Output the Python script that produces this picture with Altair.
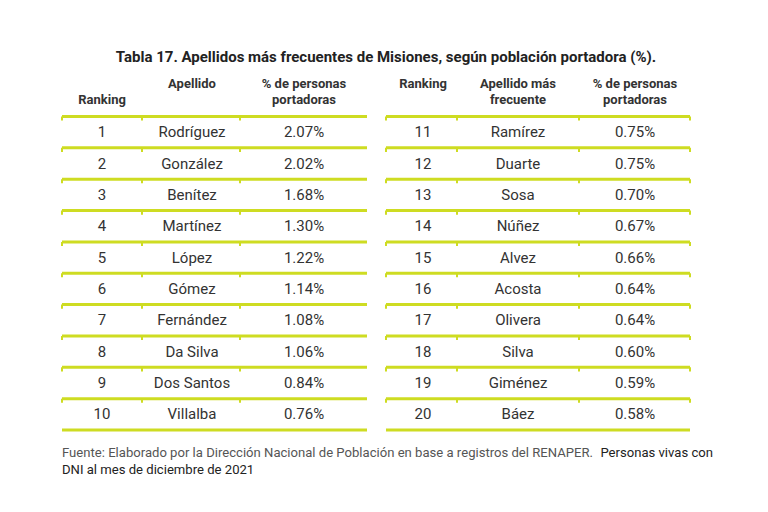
import altair as alt
import pandas as pd

# ---- data ----
title = "Tabla 17. Apellidos más frecuentes de Misiones, según población portadora (%)."
ranks_left = [1, 2, 3, 4, 5, 6, 7, 8, 9, 10]
names_left = ["Rodríguez", "González", "Benítez", "Martínez", "López",
              "Gómez", "Fernández", "Da Silva", "Dos Santos", "Villalba"]
pct_left = [2.07, 2.02, 1.68, 1.30, 1.22, 1.14, 1.08, 1.06, 0.84, 0.76]

ranks_right = [11, 12, 13, 14, 15, 16, 17, 18, 19, 20]
names_right = ["Ramírez", "Duarte", "Sosa", "Núñez", "Alvez",
               "Acosta", "Olivera", "Silva", "Giménez", "Báez"]
pct_right = [0.75, 0.75, 0.70, 0.67, 0.66, 0.64, 0.64, 0.60, 0.59, 0.58]

headers_left = [["Ranking"], ["Apellido"], ["% de personas", "portadoras"]]
headers_right = [["Ranking"], ["Apellido más", "frecuente"], ["% de personas", "portadoras"]]

footer_a = "Fuente: Elaborado por la Dirección Nacional de Población en base a registros del RENAPER."
footer_b = "Personas vivas con"
footer_c = "DNI al mes de diciembre de 2021"

# ---- layout (chart coordinates = page - 8) ----
FONT = "Roboto"
LINE = "#cedc22"
TXT = "#333333"
OFF = 8
centers_left = [102, 192, 304]
centers_right = [423, 518, 635]
edges_left = [62, 142, 240, 367]
edges_right = [386, 457, 579, 690]

yscale = alt.Scale(domain=[0, 10], range=[116.5 - OFF, 430 - OFF])

layers = []

# title
layers.append(
    alt.Chart(pd.DataFrame({"t": [title]})).mark_text(
        font=FONT, fontSize=15, fontWeight="bold", color="#222222", align="center", baseline="middle"
    ).encode(x=alt.value(386 - OFF), y=alt.value(57 - OFF), text="t:N")
)

def header_layers(headers, centers):
    out = []
    for hdr, cx in zip(headers, centers):
        if len(hdr) == 1:
            ys = [100] if hdr[0] == "Ranking" and cx < 200 else [84]
        else:
            ys = [84, 100]
        for line, yy in zip(hdr, ys):
            out.append(
                alt.Chart(pd.DataFrame({"t": [line]})).mark_text(
                    font=FONT, fontSize=13, fontWeight="bold", color=TXT, align="center", baseline="middle"
                ).encode(x=alt.value(cx - OFF), y=alt.value(yy - OFF), text="t:N")
            )
    return out

layers += header_layers(headers_left, centers_left)
layers += header_layers(headers_right, centers_right)

def table_layers(ranks, names, pcts, centers, edges, tick_right):
    df = pd.DataFrame({
        "row": list(range(1, len(ranks) + 1)),
        "rank": [str(r) for r in ranks],
        "name": names,
        "pct": [f"{p:.2f}%" for p in pcts],
    })
    df["pos"] = df["row"] - 0.5
    out = []
    for field, cx in zip(["rank", "name", "pct"], centers):
        out.append(
            alt.Chart(df).mark_text(
                font=FONT, fontSize=15, color=TXT, align="center", baseline="middle"
            ).encode(
                x=alt.value(cx - OFF),
                y=alt.Y("pos:Q", scale=yscale, axis=None),
                text=f"{field}:N",
            )
        )
    lines = pd.DataFrame({"k": list(range(0, len(ranks) + 1))})
    out.append(
        alt.Chart(lines).mark_rule(color=LINE, strokeWidth=3).encode(
            x=alt.value(edges[0] - OFF), x2=alt.value(edges[-1] - OFF),
            y=alt.Y("k:Q", scale=yscale, axis=None),
        )
    )
    tick_df = pd.DataFrame({"k": list(range(0, len(ranks)))})
    tick_edges = edges if tick_right else edges[:-1]
    for ex in tick_edges:
        out.append(
            alt.Chart(tick_df).mark_rule(color=LINE, strokeWidth=2).transform_calculate(
                k2="datum.k + 0.13"
            ).encode(
                x=alt.value(ex - OFF),
                y=alt.Y("k:Q", scale=yscale, axis=None),
                y2="k2:Q",
            )
        )
    return out

layers += table_layers(ranks_left, names_left, pct_left, centers_left, edges_left, False)
layers += table_layers(ranks_right, names_right, pct_right, centers_right, edges_right, True)

# footer
FS = 13.1
layers.append(
    alt.Chart(pd.DataFrame({"t": [footer_a]})).mark_text(
        font=FONT, fontSize=FS, color="#555555", align="left", baseline="middle"
    ).encode(x=alt.value(62 - OFF), y=alt.value(453 - OFF), text="t:N")
)
layers.append(
    alt.Chart(pd.DataFrame({"t": [footer_b]})).mark_text(
        font=FONT, fontSize=FS, color="#222222", align="right", baseline="middle"
    ).encode(x=alt.value(713 - OFF), y=alt.value(453 - OFF), text="t:N")
)
layers.append(
    alt.Chart(pd.DataFrame({"t": [footer_c]})).mark_text(
        font=FONT, fontSize=FS, color="#222222", align="left", baseline="middle"
    ).encode(x=alt.value(62 - OFF), y=alt.value(470 - OFF), text="t:N")
)

chart = alt.layer(*layers).properties(
    width=752, height=496, autosize="none", padding=0, background="white"
).configure_view(stroke=None)

chart.save("out.html", embed_options={"renderer": "svg", "actions": False})
